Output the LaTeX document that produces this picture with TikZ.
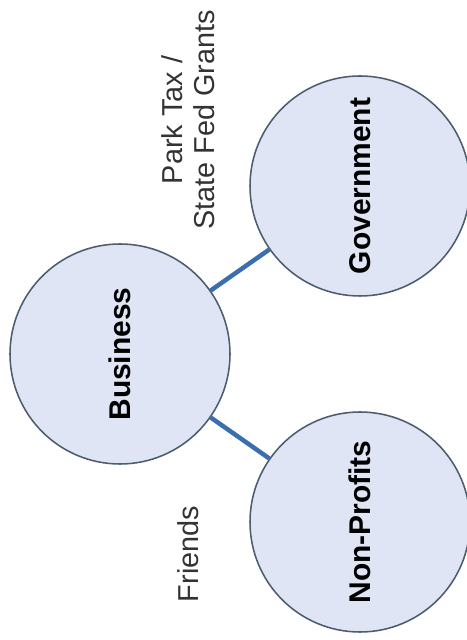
\documentclass[tikz,border=0pt]{standalone}
\usepackage{fontspec}
\setmainfont{Liberation Sans}
\usepackage{xcolor}
\usetikzlibrary{positioning}

\definecolor{ringfill}{HTML}{DFE5F4}
\definecolor{ringline}{HTML}{4D5D6D}
\definecolor{linkblue}{HTML}{3B6EB0}
\definecolor{labtext}{HTML}{333333}

\begin{document}
\begin{tikzpicture}[
    party/.style={circle, draw=ringline, line width=1.1pt, fill=ringfill,
                  minimum size=5.5cm, inner sep=0pt, rotate=90,
                  font=\fontsize{21.3}{24}\selectfont\bfseries},
    flow/.style={align=center, rotate=90, text=labtext,
                 font=\fontsize{20.5}{22.8}\selectfont},
    link/.style={linkblue, line width=3.2pt},
  ]
  \useasboundingbox (0,0) rectangle (11.675,16);

  % ===== Parties =====
  \node[party] (bus) at (3.0, 7.15) {Business};
  \node[party] (gov) at (9.0, 11.35) {Government};
  \node[party] (npo) at (9.0, 2.95) {Non-Profits};

  % ===== Links =====
  \draw[link] (bus) -- (gov);
  \draw[link] (bus) -- (npo);

  % ===== Funding labels =====
  \node[flow] (tax) at (4.7, 13.0) {Park Tax /\\State Fed Grants};
  \node[flow] (frd) at (4.7, 2.15) {Friends};

\end{tikzpicture}
\end{document}
